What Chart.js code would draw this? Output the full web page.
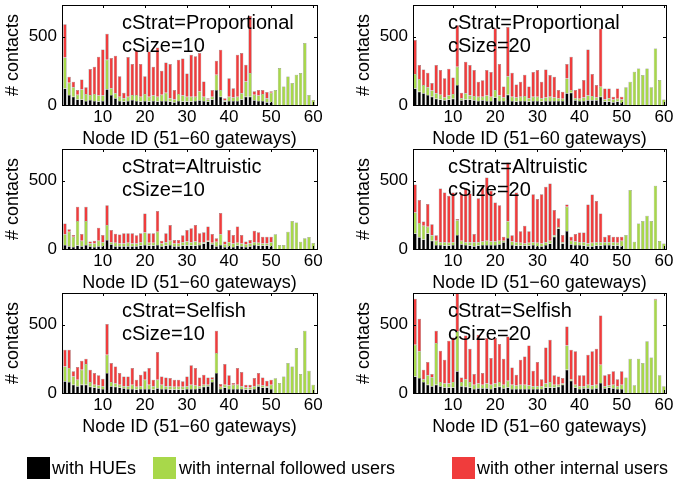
<!DOCTYPE html>
<html>
<head>
<meta charset="utf-8">
<script src="https://cdn.jsdelivr.net/npm/chart.js@4/dist/chart.umd.min.js"></script>
<style>
  html, body { margin: 0; padding: 0; background: #fff; }
  body { width: 674px; height: 483px; position: relative; overflow: hidden;
         font-family: "Liberation Sans", Arial, sans-serif; }
  canvas.panel { position: absolute; }
  .lg-box { position: absolute; top: 457px; width: 23px; height: 22px; }
  .lg-text { position: absolute; top: 457px; height: 22px; line-height: 22px;
             font-size: 18px; color: #000; white-space: nowrap; }
</style>
</head>
<body>
<canvas class="panel" id="p1" width="337" height="160" style="left:0;top:0"></canvas>
<canvas class="panel" id="p2" width="337" height="160" style="left:337px;top:0"></canvas>
<canvas class="panel" id="p3" width="337" height="160" style="left:0;top:144px"></canvas>
<canvas class="panel" id="p4" width="337" height="160" style="left:337px;top:144px"></canvas>
<canvas class="panel" id="p5" width="337" height="160" style="left:0;top:288px"></canvas>
<canvas class="panel" id="p6" width="337" height="160" style="left:337px;top:288px"></canvas>

<div class="lg-box" style="left:27px;background:#000"></div>
<div class="lg-text" style="left:52px">with HUEs</div>
<div class="lg-box" style="left:153px;background:#a8d84a"></div>
<div class="lg-text" style="left:179px">with internal followed users</div>
<div class="lg-box" style="left:452px;background:#f03c3c"></div>
<div class="lg-text" style="left:477px">with other internal users</div>

<script>
// Node IDs 1..60 (51-60 are gateways)
const nodes = Array.from({ length: 60 }, (_, i) => i + 1);
const xTickValues = [10, 20, 30, 40, 50, 60];
const yTickValues = [0, 500];

// cStrat=Proportional, cSize=10
const propHue10 = [120,73,61,40,41,30,37,30,25,30, 115,73,49,30,25,30,37,30,25,30, 25,30,25,30,30,25,20,30,25,25,
                   25,30,35,30,25,40,110,60,25,30, 30,30,40,60,61,35,30,30,20,20, 0,0,0,0,0,0,0,0,0,0];
const propFol10 = [227,90,68,35,73,51,36,51,45,40, 216,49,37,31,24,31,36,43,36,50, 35,40,35,45,60,25,20,50,45,35,
                   35,31,63,31,15,20,110,50,10,30, 25,30,46,111,172,40,40,50,30,70, 110,270,135,208,160,220,233,453,73,37];
const propOth10 = [243,44,41,35,73,49,189,199,283,336, 189,221,274,149,41,289,227,327,239,130, 330,210,360,175,220,250,70,250,270,170,
                   307,294,282,110,9,50,103,294,15,136, 67,307,294,123,417,25,40,30,45,10, 0,0,0,0,0,0,0,0,0,0];

// cStrat=Proportional, cSize=20
const propHue20 = [121,97,85,73,60,45,40,35,40,45, 146,35,40,40,35,30,35,30,30,55, 30,30,75,30,25,30,30,25,30,30,
                   25,30,30,30,30,30,85,90,35,30, 30,35,35,35,60,25,25,20,25,15, 0,0,0,0,0,0,0,0,0,0];
const propFol20 = [105,93,61,56,45,40,35,20,30,35, 134,15,45,30,30,30,25,40,30,55, 40,25,135,30,30,30,35,25,30,30,
                   25,25,30,25,20,15,109,20,15,15, 25,35,30,20,74,15,25,20,20,25, 129,170,243,267,219,267,129,413,182,41];
const propOth20 = [248,102,114,106,55,207,180,140,195,120, 303,40,231,222,190,110,120,185,180,450, 230,80,360,175,95,110,155,85,180,195,
                   120,205,159,152,59,52,105,242,59,75, 127,336,161,91,425,81,71,20,76,21, 0,0,0,0,0,0,0,0,0,0];

// cStrat=Altruistic, cSize=10
const altHue10 = [29,20,15,25,20,30,20,15,20,20, 66,35,20,20,20,20,20,20,25,30, 25,25,30,20,25,30,20,20,25,25,
                  25,25,30,40,55,35,20,30,15,20, 15,25,20,15,20,30,25,25,25,20, 0,0,0,0,0,0,0,0,0,0];
const altFol10 = [78,106,75,179,40,174,20,25,40,30, 109,15,25,20,20,25,20,20,25,91, 20,20,96,20,25,30,20,20,25,30,
                  25,30,15,10,5,10,33,77,20,30, 25,20,20,20,20,20,20,15,15,30, 107,29,29,126,204,194,53,78,88,44];
const altOth10 = [80,19,12,105,50,105,15,20,96,52, 145,88,67,65,75,70,75,60,65,139, 70,70,151,20,65,115,25,25,50,83,
                  101,120,70,72,105,65,25,156,20,88, 62,120,62,20,25,84,77,50,50,40, 0,0,0,0,0,0,0,0,0,0];

// cStrat=Altruistic, cSize=20
const altHue20 = [114,85,70,114,60,30,30,25,25,30, 102,35,30,25,20,25,30,30,30,30, 35,50,80,30,25,25,25,25,30,20,
                  20,30,40,90,150,40,131,35,30,30, 25,20,20,25,25,30,30,25,25,20, 0,0,0,0,0,0,0,0,0,0];
const altFol20 = [153,105,100,49,40,30,20,25,20,20, 108,25,20,25,30,25,25,30,25,25, 25,10,122,25,25,20,15,20,20,25,
                  20,20,20,10,10,10,178,25,25,20, 25,20,25,25,25,20,20,25,20,40, 102,430,53,187,204,243,204,462,58,41];
const altOth20 = [204,167,30,165,80,40,392,363,344,363, 9,340,390,355,60,320,395,462,370,285, 260,30,430,45,363,85,130,85,350,320,
                  360,404,419,184,64,52,16,30,55,70, 70,285,353,300,210,40,52,40,45,30, 0,0,0,0,0,0,0,0,0,0];

// cStrat=Selfish, cSize=10
const selHue10 = [85,80,60,50,60,60,45,40,35,30, 146,50,45,40,35,30,30,25,30,30, 30,25,35,30,30,25,25,25,25,30,
                  30,30,35,45,50,80,146,30,40,30, 30,30,30,25,25,30,50,40,40,30, 0,0,0,0,0,0,0,0,0,0];
const selFol10 = [109,102,61,47,110,151,35,20,20,20, 133,30,25,20,15,20,30,20,20,67, 30,25,62,30,20,25,20,20,20,20,
                  30,25,15,15,10,20,146,15,20,25, 30,30,20,15,15,20,10,15,10,30, 107,73,121,219,194,328,139,454,163,61];
const selOth10 = [122,134,37,93,66,39,90,86,74,54, 224,139,124,86,71,71,122,52,84,61, 122,47,202,61,64,59,52,52,40,71,
                  142,127,64,74,54,15,162,21,151,74, 13,122,103,21,21,59,86,59,40,37, 0,0,0,0,0,0,0,0,0,0];

// cStrat=Selfish, cSize=20
const selHue20 = [121,110,80,60,50,60,50,40,40,40, 158,50,45,40,30,35,35,35,30,40, 45,35,40,30,30,30,30,30,30,30,
                  30,40,40,40,45,60,170,90,40,30, 35,35,30,35,73,35,40,35,30,30, 0,0,0,0,0,0,0,0,0,0];
const selFol20 = [231,194,20,70,65,305,30,30,30,40, 292,30,55,40,30,35,25,35,30,30, 35,25,50,30,25,30,30,25,20,20,
                  20,30,40,20,15,10,177,10,20,20, 15,25,25,25,134,15,15,25,20,30, 114,250,56,250,219,377,260,680,129,49];
const selOth20 = [336,238,70,96,24,89,229,173,312,326, 290,34,320,243,79,355,86,331,195,331, 277,190,323,127,79,183,207,292,113,176,
                  50,263,309,69,61,39,139,216,244,79, 79,219,249,263,359,79,84,98,50,98, 0,0,0,0,0,0,0,8,0,0];

const COLORS = { hue: '#000000', followed: '#a8d84a', other: '#f03c3c', edge: 'rgba(110,110,110,0.9)' };
const FONT = '"Liberation Sans", Arial, sans-serif';

// Box around the plot area, inward ticks, and the two-line strategy caption
const framePlugin = {
  id: 'frame',
  afterDraw(chart, args, opts) {
    const { ctx, chartArea: a, scales: { x, y } } = chart;
    ctx.save();
    ctx.strokeStyle = '#000';
    ctx.lineWidth = 1;
    ctx.strokeRect(Math.round(a.left) + 0.5, Math.round(a.top) + 0.5,
                   Math.round(a.right - a.left), Math.round(a.bottom - a.top));
    ctx.beginPath();
    const tl = 3;
    xTickValues.forEach(v => {
      const px = Math.round(x.getPixelForValue(v)) + 0.5;
      ctx.moveTo(px, a.bottom); ctx.lineTo(px, a.bottom - tl);
      ctx.moveTo(px, a.top); ctx.lineTo(px, a.top + tl);
    });
    yTickValues.forEach(v => {
      const py = Math.round(y.getPixelForValue(v)) + 0.5;
      ctx.moveTo(a.left, py); ctx.lineTo(a.left + tl, py);
      ctx.moveTo(a.right, py); ctx.lineTo(a.right - tl, py);
    });
    ctx.stroke();
    ctx.fillStyle = '#000';
    ctx.font = '20px ' + FONT;
    ctx.textBaseline = 'alphabetic';
    ctx.textAlign = 'left';
    ctx.fillText(opts.line1, a.left + opts.dx, a.top + 24);
    ctx.fillText(opts.line2, a.left + opts.dx, a.top + 47);
    ctx.restore();
  }
};

function series(label, values, color) {
  return {
    label,
    data: nodes.map((n, i) => ({ x: n, y: values[i] })),
    backgroundColor: color,
    borderColor: COLORS.edge,
    borderWidth: 0.5,
    borderSkipped: 'start',
    categoryPercentage: 0.8,
    barPercentage: 1.0
  };
}

function makePanel(id, rightCol, line1, line2, hue, fol, oth) {
  const tickFont = { family: FONT, size: 17 };
  const titleFont = { family: FONT, size: 18 };
  new Chart(document.getElementById(id), {
    type: 'bar',
    data: {
      datasets: [
        series('with HUEs', hue, COLORS.hue),
        series('with internal followed users', fol, COLORS.followed),
        series('with other internal users', oth, COLORS.other)
      ]
    },
    options: {
      responsive: false,
      animation: false,
      events: [],
      layout: { padding: { left: rightCol ? 14 : 0, right: rightCol ? 8 : 20, top: 5, bottom: 0 } },
      plugins: {
        legend: { display: false },
        tooltip: { enabled: false },
        frame: { line1, line2, dx: rightCol ? 35 : 60 }
      },
      scales: {
        x: {
          type: 'linear',
          stacked: true,
          offset: false,
          min: rightCol ? 0.5 : 0.3,
          max: rightCol ? 60.5 : 60.9,
          grid: { display: false, drawTicks: false },
          border: { display: false },
          afterBuildTicks: s => { s.ticks = xTickValues.map(v => ({ value: v })); },
          afterFit: s => { s.height = 55; s.paddingLeft = 0; s.paddingRight = 0; },
          ticks: { font: tickFont, color: '#000', padding: 2, maxRotation: 0, autoSkip: false },
          title: { display: true, text: 'Node ID (51\u221260 gateways)', font: titleFont, color: '#000',
                   padding: { top: 0, bottom: 10 } }
        },
        y: {
          stacked: true,
          min: 0,
          max: 730,
          grid: { display: false, drawTicks: false },
          border: { display: false },
          afterBuildTicks: s => { s.ticks = yTickValues.map(v => ({ value: v })); },
          afterFit: s => { s.width = 62; s.paddingTop = 0; s.paddingBottom = 0; },
          ticks: { font: tickFont, color: '#000', padding: 5 },
          title: { display: true, text: '# contacts', font: titleFont, color: '#000',
                   padding: { top: 2, bottom: 0 } }
        }
      }
    },
    plugins: [framePlugin]
  });
}

makePanel('p1', false, 'cStrat=Proportional', 'cSize=10', propHue10, propFol10, propOth10);
makePanel('p2', true,  'cStrat=Proportional', 'cSize=20', propHue20, propFol20, propOth20);
makePanel('p3', false, 'cStrat=Altruistic',   'cSize=10', altHue10,  altFol10,  altOth10);
makePanel('p4', true,  'cStrat=Altruistic',   'cSize=20', altHue20,  altFol20,  altOth20);
makePanel('p5', false, 'cStrat=Selfish',      'cSize=10', selHue10,  selFol10,  selOth10);
makePanel('p6', true,  'cStrat=Selfish',      'cSize=20', selHue20,  selFol20,  selOth20);
</script>
</body>
</html>
